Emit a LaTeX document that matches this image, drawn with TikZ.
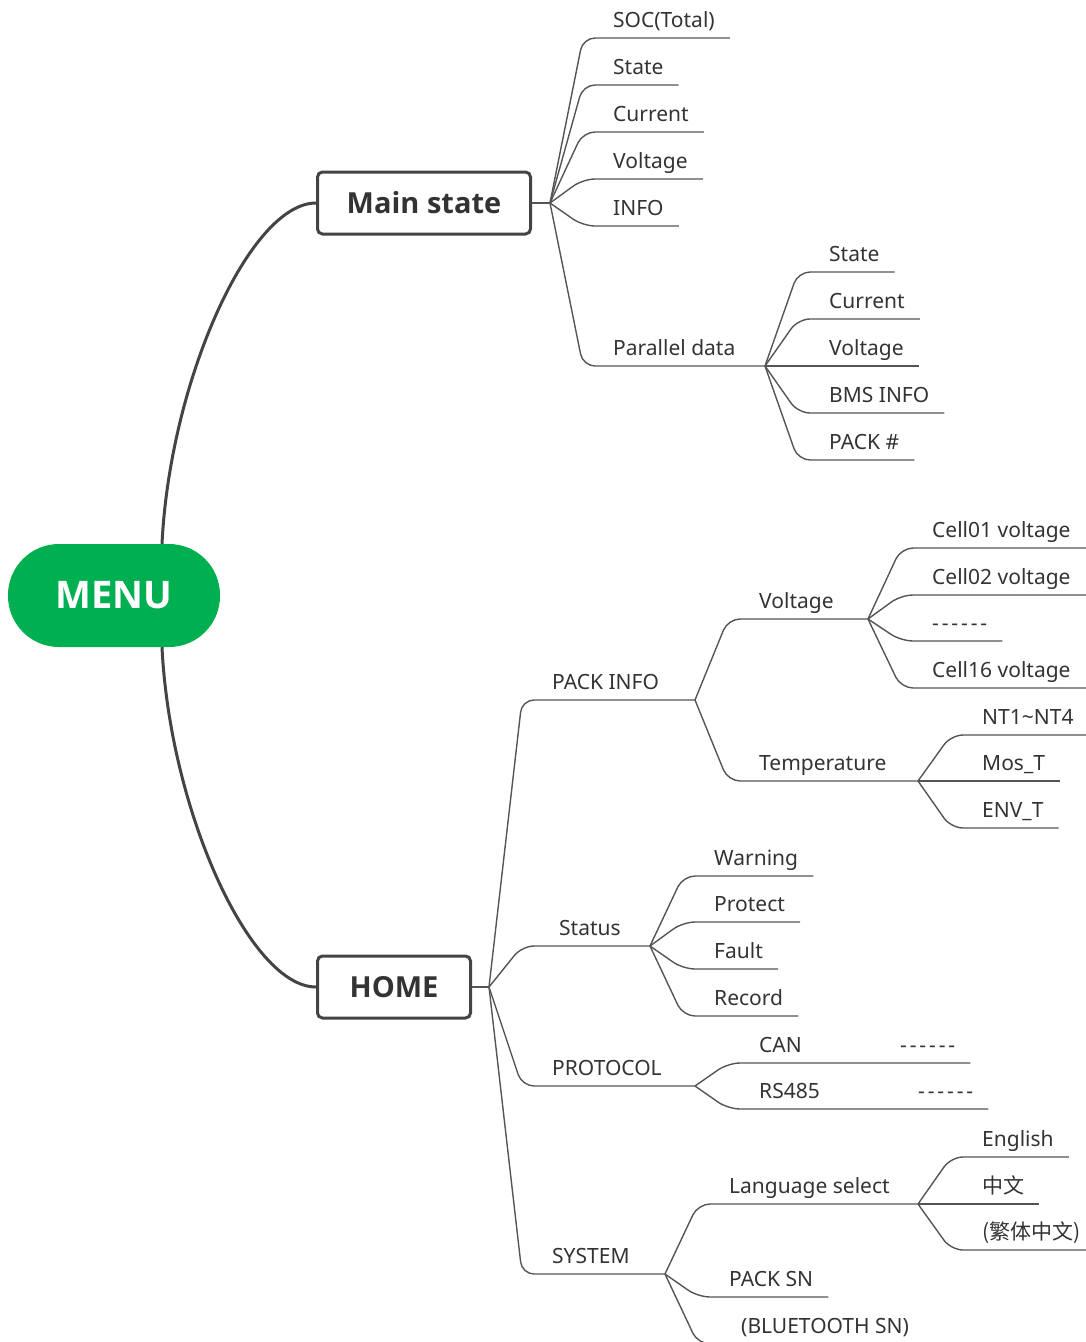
\documentclass[tikz,border=0pt]{standalone}
\usepackage{fontspec}
\setmainfont{Noto Sans}
\newfontfamily\headfont{Open Sans}
\newfontfamily\cjk{Noto Sans CJK SC}
\usetikzlibrary{calc}
\definecolor{menugreen}{RGB}{0,176,80}
\definecolor{inkgray}{HTML}{333333}
\definecolor{linegray}{HTML}{555555}
\definecolor{boxgray}{HTML}{444444}
% fork -> corner -> end of the underline
\newcommand\branch[3]{\draw[branch] (#1) -- ($(#1 |- #2.south)+(33,0)$) -- (#3);}
\newcommand\dashrow{\makebox[55pt]{-\hfill-\hfill-\hfill-\hfill-\hfill-}}
\begin{document}
\begin{tikzpicture}
        [x=1pt,y=-1pt,
        leaf/.style={anchor=south west,inner xsep=15pt,inner ysep=5pt,
            text height=16pt,text depth=5pt,text=inkgray,
            font=\fontsize{21}{25}\selectfont},
        topic/.style={draw=boxgray,line width=3pt,rounded corners=5pt,
            text=inkgray,font=\headfont\fontsize{29}{35}\selectfont\bfseries,
            minimum height=62pt},
        branch/.style={draw=linegray,line width=1.4pt,rounded corners=12pt},
        trunk/.style={draw=boxgray,line width=3pt}]
    \useasboundingbox (0,0) rectangle (1085,1342);
    % root and the two topics
    \node[fill=menugreen,rounded corners=51pt,minimum width=212pt,
        minimum height=103pt,text=white,
        font=\headfont\fontsize{38}{46}\selectfont\bfseries] (menu) at (114,595.5) {MENU};
    \node[topic,minimum width=213pt] (mainst) at (424,203) {Main state};
    \node[topic,minimum width=153pt] (home) at (394,987) {HOME};
    \draw[trunk] ([xshift=48pt]menu.north) .. controls (170,380) and (250,203) .. (mainst.west);
    \draw[trunk] ([xshift=48pt]menu.south) .. controls (170,811) and (250,987) .. (home.west);
    % forks
    \coordinate (ms-f) at (550,203);
    \coordinate (par-f) at (765,366);
    \coordinate (home-f) at (489,987);
    \coordinate (pinfo-f) at (695,700);
    \coordinate (volt-f) at (868,619);
    \coordinate (temp-f) at (918,781);
    \coordinate (status-f) at (650,946);
    \coordinate (proto-f) at (695,1086);
    \coordinate (sys-f) at (665,1274);
    \coordinate (lang-f) at (918,1204);
    \draw[branch] (mainst.east) -- (ms-f);
    \draw[branch] (home.east) -- (home-f);
    % Main state
    \node[leaf] (soc) at (598,38) {SOC(Total)};
    \node[leaf] (mstate) at (598,85) {State};
    \node[leaf] (mcurr) at (598,132) {Current};
    \node[leaf] (mvolt) at (598,179) {Voltage};
    \node[leaf] (minfo) at (598,226) {INFO};
    \node[leaf] (par) at (598,366) {Parallel data};
    \branch{ms-f}{soc}{soc.south east}
    \branch{ms-f}{mstate}{mstate.south east}
    \branch{ms-f}{mcurr}{mcurr.south east}
    \branch{ms-f}{mvolt}{mvolt.south east}
    \branch{ms-f}{minfo}{minfo.south east}
    \branch{ms-f}{par}{par-f}
    % Parallel data
    \node[leaf] (pstate) at (814,272) {State};
    \node[leaf] (pcurr) at (814,319) {Current};
    \node[leaf] (pvolt) at (814,366) {Voltage};
    \node[leaf] (pbms) at (814,413) {BMS INFO};
    \node[leaf] (ppack) at (814,460) {PACK \#};
    \branch{par-f}{pstate}{pstate.south east}
    \branch{par-f}{pcurr}{pcurr.south east}
    \branch{par-f}{pvolt}{pvolt.south east}
    \branch{par-f}{pbms}{pbms.south east}
    \branch{par-f}{ppack}{ppack.south east}
    % HOME
    \node[leaf] (pinfo) at (537,700) {PACK INFO};
    \node[leaf] (status) at (544,946) {Status};
    \node[leaf] (proto) at (537,1086) {PROTOCOL};
    \node[leaf] (sys) at (537,1274) {SYSTEM};
    \branch{home-f}{pinfo}{pinfo-f}
    \branch{home-f}{status}{status-f}
    \branch{home-f}{proto}{proto-f}
    \branch{home-f}{sys}{sys-f}
    % PACK INFO
    \node[leaf] (volt) at (744,619) {Voltage};
    \node[leaf] (temp) at (744,781) {Temperature};
    \branch{pinfo-f}{volt}{volt-f}
    \branch{pinfo-f}{temp}{temp-f}
    \node[leaf] (c01) at (917,548) {Cell01 voltage};
    \node[leaf] (c02) at (917,595) {Cell02 voltage};
    \node[leaf] (cdots) at (917,641) {\dashrow};
    \node[leaf] (c16) at (917,688) {Cell16 voltage};
    \branch{volt-f}{c01}{c01.south east}
    \branch{volt-f}{c02}{c02.south east}
    \branch{volt-f}{cdots}{cdots.south east}
    \branch{volt-f}{c16}{c16.south east}
    \node[leaf] (nt) at (967,735) {NT1\textasciitilde NT4};
    \node[leaf] (mos) at (967,781) {Mos\_T};
    \node[leaf] (env) at (967,828) {ENV\_T};
    \branch{temp-f}{nt}{nt.south east}
    \branch{temp-f}{mos}{mos.south east}
    \branch{temp-f}{env}{env.south east}
    % Status
    \node[leaf] (warn) at (699,876) {Warning};
    \node[leaf] (prot) at (699,922) {Protect};
    \node[leaf] (fault) at (699,969) {Fault};
    \node[leaf] (rec) at (699,1016) {Record};
    \branch{status-f}{warn}{warn.south east}
    \branch{status-f}{prot}{prot.south east}
    \branch{status-f}{fault}{fault.south east}
    \branch{status-f}{rec}{rec.south east}
    % PROTOCOL
    \node[leaf] (can) at (744,1063) {CAN};
    \node[leaf] (can-d) at (885,1063) {\dashrow};
    \node[leaf] (rs) at (744,1109) {RS485};
    \node[leaf] (rs-d) at (903,1109) {\dashrow};
    \branch{proto-f}{can}{can-d.south east}
    \branch{proto-f}{rs}{rs-d.south east}
    % SYSTEM
    \node[leaf] (lang) at (714,1204) {Language select};
    \node[leaf] (sn) at (714,1297) {PACK SN};
    \node[leaf] (bt) at (726,1344) {(BLUETOOTH SN)};
    \branch{sys-f}{lang}{lang-f}
    \branch{sys-f}{sn}{sn.south east}
    \branch{sys-f}{bt}{bt.south east}
    \node[leaf] (en) at (967,1157) {English};
    \node[leaf] (zh) at (967,1204) {\cjk 中文};
    \node[leaf] (zht) at (967,1250) {\cjk (繁体中文)};
    \branch{lang-f}{en}{en.south east}
    \branch{lang-f}{zh}{zh.south east}
    \branch{lang-f}{zht}{zht.south east}
\end{tikzpicture}
\end{document}
